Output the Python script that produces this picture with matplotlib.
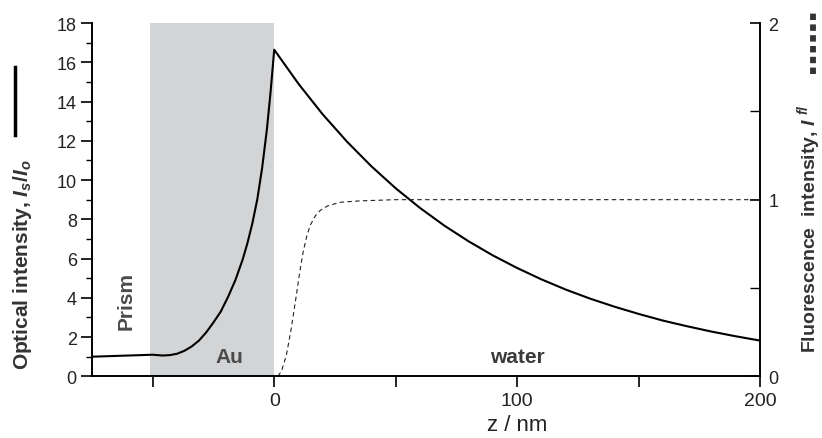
import matplotlib
matplotlib.use("Agg")
import matplotlib.pyplot as plt
from matplotlib.lines import Line2D

plt.rcParams['font.family'] = ['Liberation Sans', 'DejaVu Sans']
plt.rcParams['mathtext.fontset'] = 'custom'
plt.rcParams['mathtext.it'] = 'Liberation Sans:italic:bold'
plt.rcParams['mathtext.rm'] = 'Liberation Sans:bold'

# optical intensity Is/Io across prism / Au / water (left axis)
z_opt = [-75, -65, -55, -50, -46, -43, -40, -37, -34, -31, -28, -25, -22, -19, -16,
         -13, -11, -9, -7, -5, -3, -1.5, 0,
         10, 20, 30, 40, 50, 60, 70, 80, 90, 100, 110, 120, 130, 140, 150,
         160, 170, 180, 190, 200]
I_opt = [1.00, 1.04, 1.08, 1.10, 1.06, 1.08, 1.15, 1.30, 1.52, 1.82, 2.24, 2.75, 3.30, 4.05, 4.90,
         5.95, 6.80, 7.80, 9.00, 10.60, 12.60, 14.50, 16.64,
         14.90, 13.34, 11.95, 10.70, 9.58, 8.58, 7.68, 6.88, 6.16, 5.52, 4.94, 4.42, 3.96, 3.55, 3.18,
         2.84, 2.55, 2.28, 2.04, 1.82]

# fluorescence intensity (right axis)
z_fl = [1.5, 3, 5, 7, 9, 10.5, 12, 13.5, 15, 17, 19, 22, 27, 35, 50, 100, 150, 200]
I_fl = [0.0, 0.03, 0.12, 0.27, 0.45, 0.59, 0.71, 0.80, 0.86, 0.91, 0.94, 0.965, 0.985, 0.993, 1.0, 1.0, 1.0, 1.0]

au_left, au_right = -51.2, 0

fig = plt.figure(figsize=(8.22, 4.39), dpi=100)
ax = fig.add_axes([0.112, 0.1405, 0.8126, 0.8048])
ax2 = ax.twinx()

ax.axvspan(au_left, au_right, color='#d3d4d6', lw=0, zorder=0)
ax.plot(z_opt, I_opt, color='black', lw=1.5, zorder=3)
ax2.plot(z_fl, I_fl, color='#222222', lw=0.8, ls=(0, (4, 3)))

ax.set_xlim(-75, 200)
ax.set_ylim(0, 18)
ax2.set_ylim(0, 2)

ax.set_xticks([-50, 0, 50, 100, 150, 200])
ax.set_xticklabels(['', '0', '', '100', '', '200'])
ax.set_yticks(range(0, 19, 2))
ax.set_yticks(range(1, 18, 2), minor=True)
ax2.set_yticks([0, 1, 2])
ax2.set_yticks([0.5, 1.5], minor=True)

for a in (ax, ax2):
    a.spines['top'].set_visible(False)
    for s in a.spines.values():
        s.set_linewidth(1.2)

ax.tick_params(axis='both', which='major', direction='out', length=8, width=1.2, pad=3)
ax.tick_params(axis='x', labelsize=14, labelcolor='#222222')
ax.tick_params(axis='y', labelsize=13, labelcolor='#222222')
ax.tick_params(axis='y', which='minor', direction='out', length=4, width=1.0)
ax2.tick_params(axis='y', which='major', direction='in', length=7, width=1.2, labelsize=13,
                pad=6, labelcolor='#222222')
ax2.tick_params(axis='y', which='minor', direction='in', length=7, width=1.0)

ax.set_xlabel('z / nm', fontsize=16, color='#222222')
ax.xaxis.set_label_coords(0.636, -0.107)
ax.set_ylabel(r'Optical intensity, $I_s/I_o$', fontsize=15, fontweight='bold', color='#333333')
ax.yaxis.set_label_coords(-0.087, 0.318)
ax2.set_ylabel(r'Fluorescence  intensity, $I^{\ fl}$', fontsize=14, fontweight='bold',
               color='#333333')
ax2.yaxis.set_label_coords(1.052, 0.42)

ax.text(-61, 3.9, 'Prism', rotation=90, ha='center', va='center', fontsize=15,
        fontweight='bold', color='#4a4a4a')
ax.text(-18.5, 1.0, 'Au', ha='center', va='center', fontsize=15,
        fontweight='bold', color='#4a4a4a')
ax.text(100, 1.0, 'water', ha='center', va='center', fontsize=15,
        fontweight='bold', color='#3a3a3a')

# line-style keys beside the axis titles
fig.add_artist(Line2D([0.0183, 0.0183], [0.69, 0.845], transform=fig.transFigure,
                      color='black', lw=2.5))
fig.add_artist(Line2D([0.9896, 0.9896], [0.829, 0.972], transform=fig.transFigure,
                      color='#333333', lw=4.2, ls=(0, (1.1, 0.75))))

fig.savefig('out.png', dpi=100)
